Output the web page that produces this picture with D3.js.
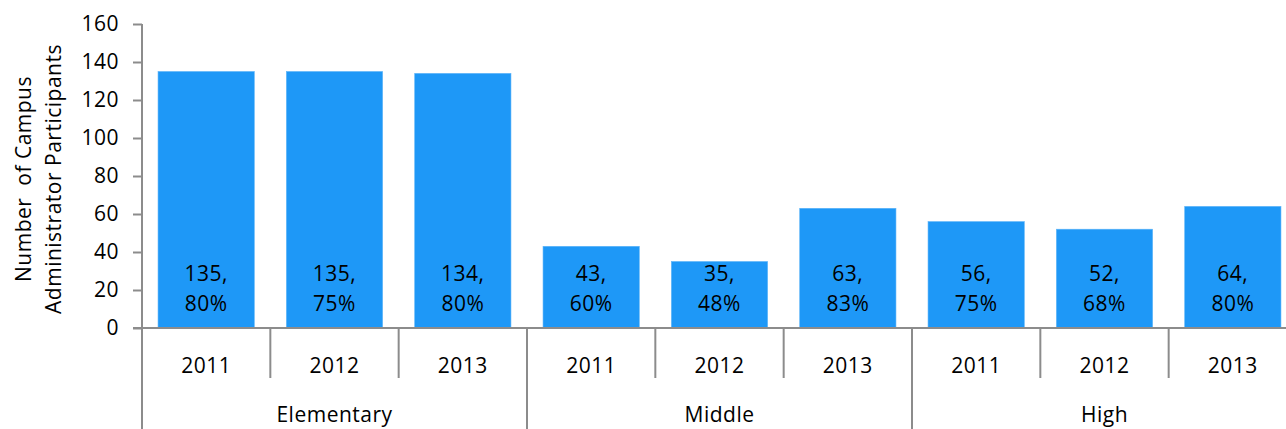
<!DOCTYPE html>
<html>
<head>
<meta charset="utf-8">
<script src="https://d3js.org/d3.v7.min.js"></script>
<style>
  body { margin: 0; background: #fff; }
  svg { display: block; font-family: "Open Sans", Lato, sans-serif; letter-spacing: 0.5px; }
</style>
</head>
<body>
<svg id="chart" width="1286" height="429"></svg>
<script>
// data
const groups = ['Elementary', 'Middle', 'High'];
const years = ['2011', '2012', '2013'];
const counts = [135, 135, 134, 43, 35, 63, 56, 52, 64];
const percents = ['80%', '75%', '80%', '60%', '48%', '83%', '75%', '68%', '80%'];
const yTicks = [0, 20, 40, 60, 80, 100, 120, 140, 160];

const svg = d3.select('#chart');
const width = +svg.attr('width');

const x0 = 142, x1 = 1297;   // last category runs past the window edge
const yTop = 24, yBase = 328;

const slots = [];
groups.forEach((g, gi) => years.forEach((yr, yi) => {
  const i = gi * years.length + yi;
  slots.push({ key: g + '-' + yr, group: g, year: yr, value: counts[i], pct: percents[i] });
}));

const x = d3.scaleBand()
  .domain(slots.map(d => d.key))
  .range([x0, x1])
  .paddingInner(0.25)
  .paddingOuter(0.125);
const step = x.step();

const y = d3.scaleLinear()
  .domain([0, 160])
  .range([yBase, yTop]);

const axisColor = '#8c8c8c';

// bars
svg.selectAll('rect.bar')
  .data(slots)
  .enter().append('rect')
  .attr('class', 'bar')
  .attr('x', d => x(d.key))
  .attr('y', d => y(d.value))
  .attr('width', x.bandwidth())
  .attr('height', d => y(0) - y(d.value))
  .attr('fill', '#1e98f7')
  .attr('stroke', '#5cb4f8')
  .attr('stroke-width', 0.6);

// value labels
const lab = svg.selectAll('text.val')
  .data(slots)
  .enter().append('text')
  .attr('class', 'val')
  .attr('text-anchor', 'middle')
  .attr('font-size', 21)
  .attr('fill', '#000');
lab.append('tspan')
  .attr('x', d => x(d.key) + x.bandwidth() / 2)
  .attr('y', y(0) - 47)
  .text(d => d.value + ',');
lab.append('tspan')
  .attr('x', d => x(d.key) + x.bandwidth() / 2)
  .attr('y', y(0) - 17)
  .text(d => d.pct);

// y axis
const yAxis = d3.axisLeft(y)
  .tickValues(yTicks)
  .tickSize(9)
  .tickPadding(14);
const yAxisG = svg.append('g')
  .attr('transform', `translate(${x0},0)`)
  .call(yAxis);
yAxisG.select('.domain').remove();
yAxisG.selectAll('line').attr('stroke', axisColor).attr('stroke-width', 2);
yAxisG.selectAll('text')
  .attr('font-size', 21)
  .attr('font-family', '"Open Sans", sans-serif')
  .attr('fill', '#000');

// vertical axis line, running down through the category area
svg.append('line')
  .attr('x1', x0).attr('x2', x0)
  .attr('y1', yTop).attr('y2', 429)
  .attr('stroke', axisColor).attr('stroke-width', 2);

// baseline
svg.append('line')
  .attr('x1', x0 - 9).attr('x2', width)
  .attr('y1', yBase).attr('y2', yBase)
  .attr('stroke', axisColor).attr('stroke-width', 2);

// category separators: short between years, long between groups
d3.range(1, slots.length).forEach(i => {
  const xs = x0 + i * step;
  const isGroup = i % years.length === 0;
  svg.append('line')
    .attr('x1', xs).attr('x2', xs)
    .attr('y1', yBase).attr('y2', isGroup ? 429 : 378)
    .attr('stroke', axisColor).attr('stroke-width', 2);
});

// year labels
svg.selectAll('text.year')
  .data(slots)
  .enter().append('text')
  .attr('class', 'year')
  .attr('x', d => x(d.key) + x.bandwidth() / 2)
  .attr('y', 373)
  .attr('text-anchor', 'middle')
  .attr('font-size', 21)
  .text(d => d.year);

// group labels
svg.selectAll('text.group')
  .data(groups)
  .enter().append('text')
  .attr('class', 'group')
  .attr('x', (d, i) => x0 + (i * years.length + years.length / 2) * step)
  .attr('y', 422)
  .attr('text-anchor', 'middle')
  .attr('font-size', 21)
  .text(d => d);

// y axis title
const title = svg.append('text')
  .attr('transform', `translate(0,${(yTop + yBase) / 2 + 3}) rotate(-90)`)
  .attr('text-anchor', 'middle')
  .attr('font-size', 21)
  .style('white-space', 'pre');
title.append('tspan').attr('x', 0).attr('y', 31).text('Number  of Campus');
title.append('tspan').attr('x', 0).attr('y', 61).text('Administrator Participants');
</script>
</body>
</html>
